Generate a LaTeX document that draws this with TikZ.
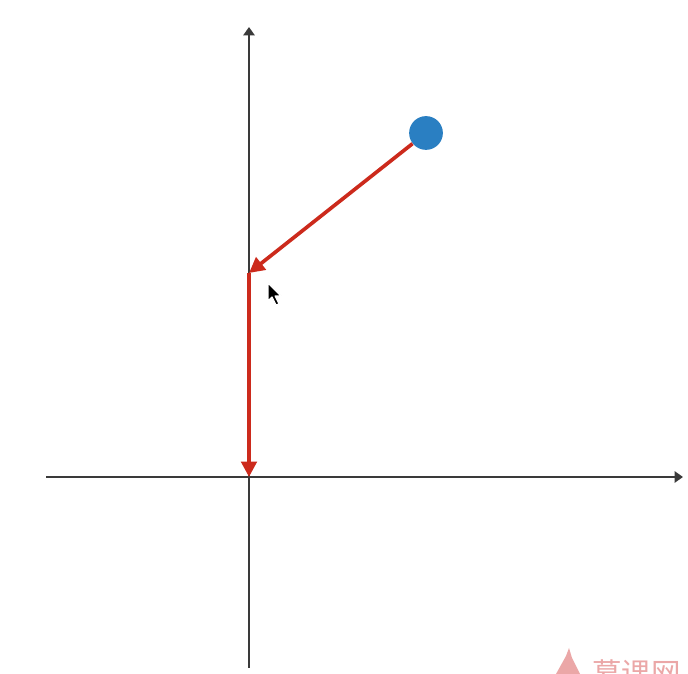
\documentclass[tikz,border=0pt]{standalone}
\usepackage{fontspec}
\newfontfamily\cjk{Noto Sans CJK SC}
\usetikzlibrary{arrows.meta}
\definecolor{axisink}{HTML}{3A3A3A}
\definecolor{movered}{HTML}{CC2A1C}
\definecolor{pointblue}{HTML}{2A7FC2}
\definecolor{markpink}{HTML}{EBA7A7}

\begin{document}
\begin{tikzpicture}[
  x=0.025cm,
  y=0.025cm,
  axis/.style={axisink, line width=1.6pt, -{Triangle[length=6pt, width=8pt]}},
  move/.style={movered, line width=2.6pt, -{Triangle[length=11pt, width=11pt]}},
  dot/.style={circle, fill=pointblue, minimum size=24pt, inner sep=0pt}
]
  \fill[white] (0,0) rectangle (688,674);
  \useasboundingbox (0,0) rectangle (688,674);

  % axes
  \coordinate (xl) at (46,197);
  \coordinate (xr) at (683,197);
  \coordinate (yb) at (249,6);
  \coordinate (yt) at (249,647);
  \coordinate (origin) at (249,197);
  \coordinate (foot) at (249,401);
  \draw[axis] (xl) -- (xr);
  \draw[axis] (yb) -- (yt);

  % point and its path
  \node[dot] (point) at (426,541) {};
  \draw[move] (point) -- (foot);
  \draw[move] (foot) -- (origin);

  % mouse pointer
  \draw[white, line width=0.8pt, fill=black, line join=round]
    (268,391) -- (268,373) -- (272,377) -- (276,369) -- (279,370)
    -- (275,378) -- (281,378) -- cycle;

  % watermark
  \begin{scope}
    \clip (0,0) rectangle (688,674);
    \fill[markpink] (556,0) -- (566,18) -- (569,26) -- (572,16) -- (580,0) -- cycle;
    \node[markpink, anchor=west, font=\cjk\fontsize{21}{21}\selectfont, inner sep=0pt]
      (mark) at (592,1) {慕课网};
  \end{scope}
\end{tikzpicture}
\end{document}
